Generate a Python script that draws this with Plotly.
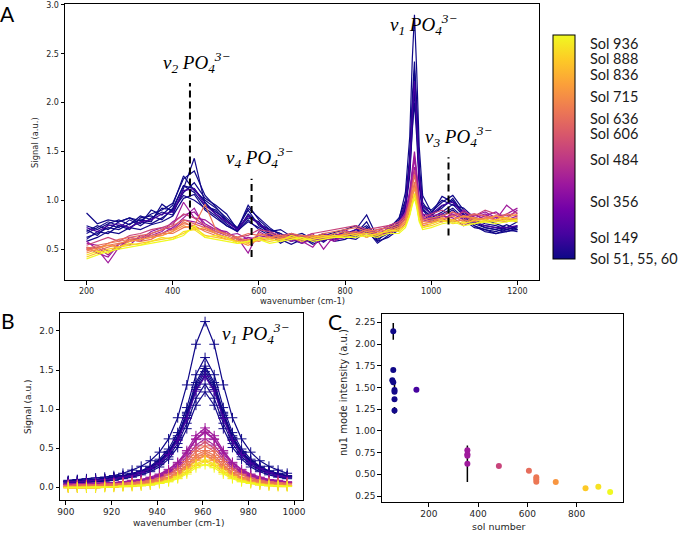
import plotly.graph_objects as go
from plotly.colors import sample_colorscale

W, H = 685, 533

# ---------------- shared: sol of each measured spectrum ----------------
spectrum_sol = [55, 55, 51, 55, 60, 60, 60, 60, 149, 356, 356, 356, 356,
                484, 606, 636, 636, 636, 715, 836, 888, 936]

# ---------------- Panel A: full spectra ----------------
a_wavenumber = [200, 225, 250, 275, 300, 325,
                350, 375, 400, 425, 450, 475,
                500, 525, 550, 575, 600, 625,
                650, 675, 700, 725, 750, 775,
                800, 825, 850, 875, 900, 925,
                940, 950, 956, 961, 966, 972, 980,
                1000, 1025, 1050, 1075, 1100, 1125, 1150, 1175, 1200]

a_s55a = [0.87, 0.76, 0.80, 0.78, 0.82, 0.79, 0.86, 0.90, 0.97, 1.22, 1.30, 1.05,
          0.93, 0.80, 0.70, 0.95, 0.80, 0.70, 0.66, 0.60, 0.63, 0.58, 0.62, 0.60,
          0.64, 0.70, 0.85, 0.62, 0.72, 0.80, 1.08, 1.65, 2.45, 2.90, 2.35, 1.55, 1.05,
          0.88, 0.98, 1.05, 0.90, 0.78, 0.74, 0.72, 0.70, 0.73]
a_s55b = [0.74, 0.70, 0.76, 0.80, 0.75, 0.84, 0.80, 0.92, 0.90, 1.15, 1.12, 0.98,
          0.86, 0.76, 0.68, 0.86, 0.76, 0.66, 0.62, 0.65, 0.58, 0.62, 0.66, 0.63,
          0.68, 0.66, 0.78, 0.58, 0.70, 0.82, 1.00, 1.45, 2.05, 2.42, 2.00, 1.35, 0.98,
          0.85, 0.92, 1.02, 0.86, 0.76, 0.72, 0.70, 0.75, 0.70]
a_s51 = [0.68, 0.74, 0.70, 0.78, 0.82, 0.76, 0.90, 0.85, 0.95, 1.25, 1.10, 1.00,
         0.92, 0.82, 0.72, 0.90, 0.74, 0.68, 0.70, 0.63, 0.66, 0.60, 0.64, 0.67,
         0.70, 0.74, 0.68, 0.66, 0.66, 0.76, 0.98, 1.40, 1.98, 2.33, 1.92, 1.30, 0.95,
         0.90, 1.00, 0.95, 0.92, 0.82, 0.80, 0.76, 0.72, 0.78]
a_s55c = [0.62, 0.66, 0.72, 0.70, 0.76, 0.80, 0.78, 0.96, 0.88, 1.08, 1.18, 1.02,
          0.95, 0.86, 0.70, 0.82, 0.78, 0.64, 0.60, 0.66, 0.62, 0.55, 0.60, 0.64,
          0.66, 0.62, 0.72, 0.60, 0.66, 0.74, 0.95, 1.38, 1.95, 2.30, 1.90, 1.28, 0.92,
          0.82, 0.88, 0.96, 0.84, 0.74, 0.70, 0.68, 0.72, 0.70]
a_s60a = [0.70, 0.64, 0.75, 0.72, 0.80, 0.74, 0.82, 0.88, 0.85, 1.12, 1.43, 0.96,
          0.88, 0.80, 0.70, 0.92, 0.82, 0.72, 0.64, 0.58, 0.61, 0.64, 0.59, 0.62,
          0.66, 0.68, 0.74, 0.64, 0.68, 0.78, 0.96, 1.36, 1.90, 2.22, 1.85, 1.26, 0.94,
          0.86, 1.04, 0.98, 0.88, 0.80, 0.76, 0.74, 0.70, 0.74]
a_s60b = [0.60, 0.68, 0.66, 0.74, 0.72, 0.78, 0.76, 0.82, 0.90, 1.05, 1.00, 0.92,
          0.84, 0.74, 0.69, 0.78, 0.72, 0.66, 0.56, 0.62, 0.60, 0.64, 0.57, 0.66,
          0.62, 0.64, 0.70, 0.56, 0.64, 0.72, 0.92, 1.32, 1.86, 2.20, 1.82, 1.22, 0.90,
          0.80, 0.86, 0.92, 0.82, 0.74, 0.68, 0.66, 0.70, 0.68]
a_s60c = [0.66, 0.72, 0.78, 0.74, 0.70, 0.82, 0.84, 0.80, 0.92, 1.15, 1.08, 0.94,
          0.90, 0.78, 0.71, 0.84, 0.76, 0.70, 0.66, 0.60, 0.56, 0.62, 0.65, 0.58,
          0.60, 0.66, 0.72, 0.62, 0.70, 0.74, 0.94, 1.30, 1.80, 2.12, 1.76, 1.20, 0.90,
          0.84, 0.94, 1.00, 0.85, 0.78, 0.72, 0.70, 0.68, 0.72]
a_s60d = [0.58, 0.62, 0.68, 0.66, 0.72, 0.70, 0.75, 0.78, 0.84, 1.02, 1.06, 0.90,
          0.82, 0.74, 0.68, 0.80, 0.70, 0.64, 0.60, 0.55, 0.60, 0.57, 0.62, 0.60,
          0.62, 0.60, 0.68, 0.58, 0.62, 0.70, 0.90, 1.25, 1.72, 2.00, 1.66, 1.15, 0.86,
          0.78, 0.84, 0.90, 0.80, 0.72, 0.70, 0.66, 0.68, 0.70]
a_s149 = [0.72, 0.68, 0.74, 0.76, 0.72, 0.78, 0.80, 0.86, 0.88, 1.10, 1.12, 0.95,
          0.86, 0.78, 0.70, 0.84, 0.76, 0.68, 0.62, 0.64, 0.60, 0.62, 0.58, 0.64,
          0.66, 0.70, 0.70, 0.62, 0.68, 0.76, 0.96, 1.36, 1.90, 2.22, 1.85, 1.26, 0.94,
          0.86, 0.95, 0.98, 0.86, 0.78, 0.74, 0.72, 0.72, 0.74]
a_s356a = [0.58, 0.50, 0.36, 0.52, 0.60, 0.58, 0.66, 0.70, 0.74, 0.98, 0.82, 0.80,
           0.72, 0.66, 0.62, 0.46, 0.68, 0.62, 0.60, 0.66, 0.58, 0.52, 0.66, 0.62,
           0.70, 0.64, 0.66, 0.70, 0.72, 0.76, 0.88, 1.10, 1.35, 1.50, 1.30, 1.02, 0.86,
           0.84, 0.86, 0.78, 0.90, 0.82, 0.86, 0.80, 0.95, 0.86]
a_s356b = [0.52, 0.46, 0.42, 0.55, 0.58, 0.62, 0.64, 0.68, 0.78, 0.85, 0.88, 0.76,
           0.70, 0.68, 0.60, 0.58, 0.64, 0.66, 0.62, 0.58, 0.62, 0.66, 0.50, 0.64,
           0.66, 0.68, 0.62, 0.68, 0.74, 0.78, 0.86, 1.06, 1.30, 1.45, 1.26, 1.00, 0.84,
           0.82, 0.78, 0.88, 0.84, 0.86, 0.80, 0.84, 0.82, 0.90]
a_s356c = [0.56, 0.54, 0.48, 0.50, 0.62, 0.60, 0.68, 0.72, 0.70, 0.80, 0.78, 0.74,
           0.68, 0.64, 0.66, 0.60, 0.62, 0.64, 0.58, 0.62, 0.56, 0.60, 0.62, 0.58,
           0.64, 0.66, 0.70, 0.66, 0.70, 0.74, 0.84, 1.04, 1.28, 1.43, 1.24, 0.98, 0.82,
           0.80, 0.84, 0.82, 0.74, 0.80, 0.84, 0.88, 0.80, 0.84]
a_s356d = [0.50, 0.52, 0.44, 0.56, 0.54, 0.64, 0.62, 0.66, 0.72, 0.82, 0.92, 0.72,
           0.66, 0.62, 0.58, 0.62, 0.60, 0.62, 0.64, 0.60, 0.64, 0.58, 0.64, 0.60,
           0.62, 0.68, 0.66, 0.64, 0.68, 0.72, 0.82, 1.00, 1.20, 1.34, 1.18, 0.95, 0.80,
           0.78, 0.80, 0.86, 0.80, 0.84, 0.88, 0.82, 0.86, 0.92]
a_s484 = [0.54, 0.58, 0.62, 0.58, 0.64, 0.66, 0.70, 0.72, 0.76, 0.86, 0.82, 0.74,
          0.70, 0.66, 0.62, 0.64, 0.70, 0.68, 0.64, 0.66, 0.62, 0.66, 0.68, 0.70,
          0.72, 0.74, 0.70, 0.72, 0.74, 0.78, 0.84, 1.00, 1.18, 1.31, 1.16, 0.94, 0.82,
          0.86, 0.90, 0.84, 0.88, 0.84, 0.90, 0.86, 0.84, 0.88]
a_s606 = [0.50, 0.54, 0.56, 0.60, 0.62, 0.64, 0.66, 0.70, 0.74, 0.80, 0.76, 0.72,
          0.68, 0.66, 0.62, 0.66, 0.64, 0.66, 0.62, 0.66, 0.64, 0.62, 0.66, 0.68,
          0.70, 0.72, 0.68, 0.70, 0.72, 0.76, 0.82, 0.98, 1.14, 1.26, 1.12, 0.92, 0.80,
          0.82, 0.84, 0.88, 0.82, 0.86, 0.84, 0.80, 0.86, 0.84]
a_s636a = [0.52, 0.50, 0.56, 0.58, 0.60, 0.62, 0.64, 0.66, 0.70, 0.76, 0.74, 0.96,
           0.70, 0.64, 0.60, 0.56, 0.66, 0.62, 0.64, 0.62, 0.60, 0.64, 0.62, 0.66,
           0.68, 0.66, 0.70, 0.68, 0.70, 0.74, 0.80, 0.95, 1.08, 1.19, 1.06, 0.88, 0.78,
           0.80, 0.82, 0.80, 0.84, 0.80, 0.82, 0.84, 0.80, 0.82]
a_s636b = [0.48, 0.52, 0.54, 0.56, 0.58, 0.60, 0.62, 0.64, 0.68, 0.78, 0.72, 0.70,
           0.66, 0.62, 0.58, 0.60, 0.58, 0.62, 0.60, 0.64, 0.62, 0.60, 0.64, 0.62,
           0.66, 0.68, 0.64, 0.66, 0.68, 0.72, 0.78, 0.92, 1.06, 1.16, 1.04, 0.86, 0.76,
           0.78, 0.80, 0.84, 0.78, 0.82, 0.80, 0.78, 0.82, 0.80]
a_s636c = [0.50, 0.48, 0.52, 0.55, 0.60, 0.58, 0.60, 0.66, 0.66, 0.72, 0.74, 0.68,
           0.64, 0.60, 0.62, 0.58, 0.62, 0.60, 0.62, 0.60, 0.64, 0.62, 0.60, 0.64,
           0.64, 0.66, 0.66, 0.64, 0.66, 0.70, 0.76, 0.90, 1.04, 1.13, 1.02, 0.84, 0.74,
           0.76, 0.80, 0.78, 0.80, 0.78, 0.82, 0.80, 0.78, 0.82]
a_s715 = [0.46, 0.50, 0.54, 0.52, 0.58, 0.60, 0.62, 0.64, 0.68, 0.74, 0.70, 0.72,
          0.66, 0.62, 0.58, 0.54, 0.60, 0.62, 0.60, 0.62, 0.60, 0.64, 0.62, 0.62,
          0.66, 0.64, 0.68, 0.66, 0.68, 0.72, 0.78, 0.92, 1.05, 1.13, 1.02, 0.86, 0.76,
          0.78, 0.82, 0.80, 0.84, 0.82, 0.80, 0.84, 0.82, 0.86]
a_s836 = [0.42, 0.46, 0.50, 0.52, 0.54, 0.56, 0.58, 0.60, 0.62, 0.66, 0.72, 0.64,
          0.62, 0.60, 0.58, 0.56, 0.60, 0.58, 0.60, 0.62, 0.58, 0.62, 0.64, 0.62,
          0.64, 0.66, 0.62, 0.66, 0.68, 0.70, 0.74, 0.86, 0.98, 1.06, 0.96, 0.80, 0.72,
          0.74, 0.78, 0.80, 0.76, 0.80, 0.78, 0.80, 0.82, 0.80]
a_s888 = [0.44, 0.48, 0.46, 0.52, 0.56, 0.54, 0.58, 0.62, 0.60, 0.68, 0.70, 0.62,
          0.64, 0.62, 0.56, 0.58, 0.62, 0.60, 0.58, 0.64, 0.60, 0.60, 0.62, 0.64,
          0.62, 0.64, 0.66, 0.64, 0.70, 0.68, 0.74, 0.86, 0.99, 1.07, 0.97, 0.80, 0.72,
          0.76, 0.80, 0.76, 0.78, 0.76, 0.80, 0.78, 0.80, 0.78]
a_s936 = [0.40, 0.44, 0.48, 0.50, 0.52, 0.54, 0.56, 0.58, 0.60, 0.64, 0.74, 0.62,
          0.60, 0.58, 0.56, 0.58, 0.60, 0.56, 0.58, 0.60, 0.62, 0.58, 0.60, 0.62,
          0.62, 0.62, 0.64, 0.62, 0.66, 0.66, 0.72, 0.84, 0.95, 1.02, 0.93, 0.78, 0.70,
          0.72, 0.76, 0.78, 0.74, 0.76, 0.78, 0.76, 0.78, 0.80]

a_signal = [a_s55a, a_s55b, a_s51, a_s55c, a_s60a, a_s60b, a_s60c, a_s60d, a_s149,
            a_s356a, a_s356b, a_s356c, a_s356d, a_s484, a_s606,
            a_s636a, a_s636b, a_s636c, a_s715, a_s836, a_s888, a_s936]

# band markers and labels (panel A)
band_x = [440, 583, 1040]
band_lo = [0.70, 0.42, 0.64]
band_hi = [2.20, 1.22, 1.44]
band_label_text = ["ν<sub>2</sub> PO<sub>4</sub><sup>3−</sup>",
                   "ν<sub>4</sub> PO<sub>4</sub><sup>3−</sup>",
                   "ν<sub>1</sub> PO<sub>4</sub><sup>3−</sup>",
                   "ν<sub>3</sub> PO<sub>4</sub><sup>3−</sup>"]
band_label_x = [454, 602, 982, 1063]
band_label_y = [2.41, 1.44, 2.80, 1.65]

# ---------------- Panel B: fitted nu1 band ----------------
b_wavenumber = [901, 905, 909, 913, 917, 921, 925, 929, 933, 937, 941, 945, 949,
                953, 957, 961, 965, 969, 973, 977, 981, 985, 989, 993, 997]

b_s55a = [0.09, 0.10, 0.11, 0.12, 0.13, 0.15, 0.18, 0.22, 0.27, 0.34, 0.45, 0.62, 0.89, 1.31, 1.83, 2.12, 1.83, 1.31, 0.89, 0.62, 0.45, 0.34, 0.27, 0.22, 0.18]
b_s55b = [0.07, 0.08, 0.09, 0.10, 0.11, 0.13, 0.15, 0.18, 0.21, 0.27, 0.36, 0.49, 0.70, 1.02, 1.44, 1.66, 1.44, 1.02, 0.70, 0.49, 0.36, 0.27, 0.21, 0.18, 0.15]
b_s51 = [0.08, 0.09, 0.09, 0.10, 0.11, 0.13, 0.15, 0.17, 0.21, 0.26, 0.34, 0.46, 0.66, 0.96, 1.34, 1.55, 1.34, 0.96, 0.66, 0.46, 0.34, 0.26, 0.21, 0.17, 0.15]
b_s55c = [0.07, 0.08, 0.08, 0.09, 0.10, 0.12, 0.14, 0.16, 0.20, 0.25, 0.33, 0.45, 0.64, 0.94, 1.31, 1.52, 1.31, 0.94, 0.64, 0.45, 0.33, 0.25, 0.20, 0.16, 0.14]
b_s60a = [0.08, 0.09, 0.09, 0.10, 0.11, 0.13, 0.14, 0.17, 0.20, 0.25, 0.33, 0.45, 0.63, 0.92, 1.28, 1.48, 1.28, 0.92, 0.63, 0.45, 0.33, 0.25, 0.20, 0.17, 0.14]
b_s60b = [0.07, 0.07, 0.08, 0.09, 0.10, 0.11, 0.13, 0.16, 0.19, 0.24, 0.31, 0.43, 0.61, 0.89, 1.25, 1.44, 1.25, 0.89, 0.61, 0.43, 0.31, 0.24, 0.19, 0.16, 0.13]
b_s60c = [0.07, 0.07, 0.08, 0.08, 0.09, 0.11, 0.12, 0.15, 0.18, 0.22, 0.29, 0.39, 0.56, 0.82, 1.14, 1.32, 1.14, 0.82, 0.56, 0.39, 0.29, 0.22, 0.18, 0.15, 0.12]
b_s60d = [0.05, 0.06, 0.06, 0.07, 0.08, 0.09, 0.11, 0.13, 0.16, 0.20, 0.26, 0.36, 0.51, 0.75, 1.05, 1.22, 1.05, 0.75, 0.51, 0.36, 0.26, 0.20, 0.16, 0.13, 0.11]
b_s149 = [0.07, 0.07, 0.08, 0.09, 0.10, 0.11, 0.13, 0.15, 0.19, 0.24, 0.31, 0.42, 0.60, 0.88, 1.23, 1.42, 1.23, 0.88, 0.60, 0.42, 0.31, 0.24, 0.19, 0.15, 0.13]
b_s356a = [0.04, 0.04, 0.05, 0.05, 0.06, 0.06, 0.07, 0.09, 0.10, 0.13, 0.17, 0.23, 0.32, 0.47, 0.66, 0.76, 0.66, 0.47, 0.32, 0.23, 0.17, 0.13, 0.10, 0.09, 0.07]
b_s356b = [0.04, 0.04, 0.05, 0.05, 0.05, 0.06, 0.07, 0.08, 0.10, 0.12, 0.16, 0.22, 0.31, 0.45, 0.62, 0.72, 0.62, 0.45, 0.31, 0.22, 0.16, 0.12, 0.10, 0.08, 0.07]
b_s356c = [0.03, 0.03, 0.03, 0.04, 0.04, 0.05, 0.06, 0.07, 0.09, 0.11, 0.15, 0.20, 0.29, 0.43, 0.61, 0.70, 0.61, 0.43, 0.29, 0.20, 0.15, 0.11, 0.09, 0.07, 0.06]
b_s356d = [0.04, 0.04, 0.04, 0.05, 0.05, 0.06, 0.06, 0.07, 0.09, 0.11, 0.14, 0.19, 0.27, 0.39, 0.54, 0.62, 0.54, 0.39, 0.27, 0.19, 0.14, 0.11, 0.09, 0.07, 0.06]
b_s484 = [0.03, 0.03, 0.03, 0.03, 0.04, 0.04, 0.05, 0.06, 0.07, 0.09, 0.12, 0.17, 0.24, 0.36, 0.50, 0.58, 0.50, 0.36, 0.24, 0.17, 0.12, 0.09, 0.07, 0.06, 0.05]
b_s606 = [0.02, 0.03, 0.03, 0.03, 0.04, 0.04, 0.05, 0.06, 0.07, 0.09, 0.11, 0.16, 0.22, 0.33, 0.46, 0.53, 0.46, 0.33, 0.22, 0.16, 0.11, 0.09, 0.07, 0.06, 0.05]
b_s636a = [0.01, 0.01, 0.02, 0.02, 0.02, 0.03, 0.03, 0.04, 0.05, 0.07, 0.09, 0.13, 0.19, 0.29, 0.41, 0.47, 0.41, 0.29, 0.19, 0.13, 0.09, 0.07, 0.05, 0.04, 0.03]
b_s636b = [0.01, 0.01, 0.02, 0.02, 0.02, 0.03, 0.03, 0.04, 0.05, 0.07, 0.09, 0.12, 0.18, 0.27, 0.38, 0.44, 0.38, 0.27, 0.18, 0.12, 0.09, 0.07, 0.05, 0.04, 0.03]
b_s636c = [0.00, 0.00, 0.01, 0.01, 0.01, 0.02, 0.02, 0.03, 0.04, 0.05, 0.07, 0.11, 0.16, 0.25, 0.35, 0.41, 0.35, 0.25, 0.16, 0.11, 0.07, 0.05, 0.04, 0.03, 0.02]
b_s715 = [0.00, 0.00, 0.01, 0.01, 0.01, 0.01, 0.02, 0.03, 0.04, 0.05, 0.07, 0.11, 0.16, 0.24, 0.34, 0.40, 0.34, 0.24, 0.16, 0.11, 0.07, 0.05, 0.04, 0.03, 0.02]
b_s836 = [-0.01, -0.01, -0.01, -0.01, 0.00, 0.00, 0.01, 0.01, 0.02, 0.03, 0.05, 0.08, 0.12, 0.19, 0.28, 0.33, 0.28, 0.19, 0.12, 0.08, 0.05, 0.03, 0.02, 0.01, 0.01]
b_s888 = [0.00, 0.00, 0.00, 0.01, 0.01, 0.01, 0.02, 0.02, 0.03, 0.04, 0.06, 0.09, 0.14, 0.21, 0.30, 0.35, 0.30, 0.21, 0.14, 0.09, 0.06, 0.04, 0.03, 0.02, 0.02]
b_s936 = [0.00, 0.00, 0.00, 0.00, 0.00, 0.01, 0.01, 0.02, 0.02, 0.03, 0.05, 0.07, 0.11, 0.17, 0.25, 0.29, 0.25, 0.17, 0.11, 0.07, 0.05, 0.03, 0.02, 0.02, 0.01]

b_signal = [b_s55a, b_s55b, b_s51, b_s55c, b_s60a, b_s60b, b_s60c, b_s60d, b_s149,
            b_s356a, b_s356b, b_s356c, b_s356d, b_s484, b_s606,
            b_s636a, b_s636b, b_s636c, b_s715, b_s836, b_s888, b_s936]

# ---------------- Panel C: nu1 intensity vs sol ----------------
c_sol = spectrum_sol
c_intensity = [2.146, 1.70, 1.582, 1.559, 1.47, 1.45, 1.363, 1.236, 1.474,
               0.776, 0.73, 0.715, 0.622, 0.595, 0.541, 0.466, 0.442, 0.414,
               0.41, 0.338, 0.357, 0.296]
c_err_plus = [0.097, 0, 0, 0, 0.09, 0, 0, 0.04, 0,
              0, 0, 0, 0.21, 0, 0, 0, 0, 0, 0, 0, 0, 0]
c_err_minus = [0.097, 0, 0, 0, 0.025, 0, 0, 0.04, 0,
               0, 0, 0, 0.21, 0, 0, 0, 0, 0, 0, 0, 0, 0]

# ---------------- colour bar labels ----------------
cbar_tick_pos = [0.0, 0.094, 0.254, 0.442, 0.558, 0.625, 0.723, 0.821, 0.893, 0.96]
cbar_tick_text = ["Sol 51, 55, 60", "Sol 149", "Sol 356", "Sol 484", "Sol 606",
                  "Sol 636", "Sol 715", "Sol 836", "Sol 888", "Sol 936"]

SOL_MIN, SOL_MAX = 51, 936
colors = sample_colorscale("Plasma", [min(max((s - SOL_MIN) / (SOL_MAX - SOL_MIN), 0), 1)
                                      for s in spectrum_sol])

fig = go.Figure()

# Panel A spectra
for sig, col in zip(a_signal, colors):
    fig.add_trace(go.Scatter(x=a_wavenumber, y=sig, mode="lines",
                             line=dict(color=col, width=1.2),
                             xaxis="x", yaxis="y", showlegend=False, hoverinfo="skip"))
# band markers
for bx, lo, hi in zip(band_x, band_lo, band_hi):
    fig.add_trace(go.Scatter(x=[bx, bx], y=[lo, hi], mode="lines",
                             line=dict(color="black", width=2, dash="7px,4px"),
                             xaxis="x", yaxis="y", showlegend=False, hoverinfo="skip"))

# colour bar holder
fig.add_trace(go.Scatter(
    x=[None, None], y=[None, None], mode="markers", xaxis="x", yaxis="y", showlegend=False,
    marker=dict(color=[0, 1], cmin=0, cmax=1, colorscale="Plasma", showscale=True,
                colorbar=dict(
                    x=553 / W, xanchor="left", y=1 - 147 / H, yanchor="middle",
                    len=224 / H, lenmode="fraction", thickness=22, thicknessmode="pixels",
                    outlinewidth=1, outlinecolor="black",
                    tickvals=cbar_tick_pos, ticktext=cbar_tick_text,
                    ticks="outside", ticklen=12, tickcolor="rgba(0,0,0,0)",
                    tickfont=dict(family="Lato", size=14.5, color="#1a1a1a"),
                    xpad=0, ypad=0))))

# Panel B
for sig, col in zip(b_signal, colors):
    fig.add_trace(go.Scatter(x=b_wavenumber, y=sig, mode="lines+markers",
                             line=dict(color=col, width=1.2),
                             marker=dict(symbol="cross-thin", size=7,
                                         line=dict(color=col, width=1)),
                             xaxis="x2", yaxis="y2", showlegend=False, hoverinfo="skip"))

# Panel C
fig.add_trace(go.Scatter(
    x=c_sol, y=c_intensity, mode="markers", xaxis="x3", yaxis="y3", showlegend=False,
    marker=dict(color=c_sol, colorscale="Plasma", cmin=SOL_MIN, cmax=SOL_MAX, size=6,
                showscale=False),
    error_y=dict(type="data", array=c_err_plus, arrayminus=c_err_minus, symmetric=False,
                 color="black", thickness=1.5, width=0)))

axis_common = dict(showgrid=False, zeroline=False, showline=True, linecolor="black",
                   linewidth=1, mirror=True, ticks="outside", ticklen=3.5, tickwidth=0.8,
                   tickcolor="black")

def dom_x(a, b):
    return [a / W, b / W]

def dom_y(top, bottom):
    return [1 - bottom / H, 1 - top / H]

fig.update_layout(
    width=W, height=H, margin=dict(l=0, r=0, t=0, b=0, autoexpand=False),
    paper_bgcolor="white", plot_bgcolor="white",
    font=dict(family="DejaVu Sans", color="#262626"),
    xaxis=dict(axis_common, domain=dom_x(65, 539), range=[150, 1250],
               tickvals=[200, 400, 600, 800, 1000, 1200], tickfont=dict(size=8), anchor="y"),
    yaxis=dict(axis_common, domain=dom_y(4, 280), range=[0.184, 3.01],
               tickvals=[0.5, 1.0, 1.5, 2.0, 2.5, 3.0], tickformat=".1f",
               tickfont=dict(size=8), anchor="x"),
    xaxis2=dict(axis_common, domain=dom_x(60, 302.7), range=[897.4, 1003.8],
                tickvals=[900, 920, 940, 960, 980, 1000], tickfont=dict(size=9), anchor="y2"),
    yaxis2=dict(axis_common, domain=dom_y(313.3, 500), range=[-0.162, 2.226],
                tickvals=[0.0, 0.5, 1.0, 1.5, 2.0], tickformat=".1f",
                tickfont=dict(size=9), anchor="x2"),
    xaxis3=dict(axis_common, domain=dom_x(381.7, 622.7), range=[8, 987],
                tickvals=[200, 400, 600, 800], tickfont=dict(size=9), anchor="y3"),
    yaxis3=dict(axis_common, domain=dom_y(314, 502), range=[0.181, 2.346],
                tickvals=[0.25, 0.5, 0.75, 1.0, 1.25, 1.5, 1.75, 2.0, 2.25], tickformat=".2f",
                tickfont=dict(size=9), anchor="x3"),
)

ann = []
def paper_text(text, px, py, size, family="DejaVu Sans", angle=0, color="#262626"):
    ann.append(dict(text=text, x=px / W, y=1 - py / H, xref="paper", yref="paper",
                    showarrow=False, xanchor="center", yanchor="middle", textangle=angle,
                    font=dict(size=size, family=family, color=color)))

# panel letters
paper_text("A", 8, 13, 21, family="Lato", color="black")
paper_text("B", 8, 320, 21, family="Lato", color="black")
paper_text("C", 335, 321, 21, family="Lato", color="black")
# axis titles
paper_text("wavenumber (cm-1)", 302, 301, 8.4)
paper_text("Signal (a.u.)", 35, 143, 8.4, angle=-90)
paper_text("wavenumber (cm-1)", 178, 523, 9)
paper_text("Signal (a.u.)", 28, 407, 9, angle=-90)
paper_text("sol number", 499, 526, 9.5)
paper_text("nu1 mode intensity (a.u.)", 343, 393, 10, angle=-90)

# band labels
for t, lx, ly in zip(band_label_text, band_label_x, band_label_y):
    ann.append(dict(text="<i>" + t + "</i>", x=lx, y=ly, xref="x", yref="y",
                    showarrow=False, xanchor="center", yanchor="middle",
                    font=dict(size=19, family="Liberation Serif", color="black")))
ann.append(dict(text="<i>" + band_label_text[2] + "</i>", x=983, y=1.97, xref="x2", yref="y2",
                showarrow=False, xanchor="center", yanchor="middle",
                font=dict(size=19, family="Liberation Serif", color="black")))

fig.update_layout(annotations=ann)
fig.write_html("out.html", config={"displayModeBar": False},
               post_script="document.body.style.margin='0px';document.body.style.padding='0px';")
